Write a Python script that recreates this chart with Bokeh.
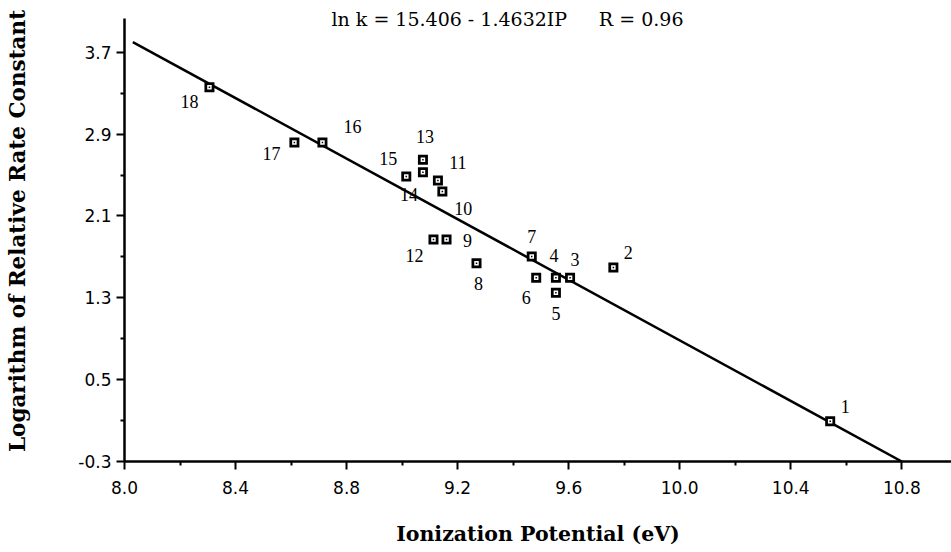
from bokeh.plotting import figure
from bokeh.models import Range1d, FixedTicker, PrintfTickFormatter, Label, LabelSet, ColumnDataSource
from bokeh.embed import file_html
from bokeh.resources import INLINE

# ---- data ----
compound = ["1", "2", "3", "4", "5", "6", "7", "8", "9", "10",
            "11", "12", "13", "14", "15", "16", "17", "18"]
ip_ev = [10.542, 9.761, 9.605, 9.554, 9.554, 9.483, 9.467, 9.268, 9.160, 9.145,
         9.129, 9.113, 9.075, 9.075, 9.015, 8.713, 8.612, 8.306]
ln_k = [0.094, 1.596, 1.496, 1.496, 1.349, 1.496, 1.704, 1.638, 1.870, 2.339,
        2.447, 1.870, 2.649, 2.528, 2.486, 2.818, 2.818, 3.359]

fit_ip = [8.03, 10.80]
fit_lnk = [3.80, -0.30]

x_ticks = [8.0, 8.4, 8.8, 9.2, 9.6, 10.0, 10.4, 10.8]
x_minor = [8.2, 8.6, 9.0, 9.4, 9.8, 10.2, 10.6]
y_ticks = [-0.3, 0.5, 1.3, 2.1, 2.9, 3.7]
y_minor = [0.1, 0.9, 1.7, 2.5, 3.3]
y_axis_top = 4.03

title_eq = "ln k = 15.406 - 1.4632IP"
title_r = "R = 0.96"

# label placement offsets (pixels; styling only)
lab_dx = [15, 15, 5, -2, 0, -10, 0, 2, 21, 21, 20, -19, 2, -14, -18, 30, -23, -20]
lab_dy = [15, 15, 18, 22, -21, -20, 20, -20, -1, -17, 18, -16, 23, -22, 18, 16, -11, -14]

p = figure(width=951, height=552, output_backend="svg", toolbar_location=None,
           x_range=Range1d(8.0, 10.979), y_range=Range1d(-0.3, 4.206),
           min_border_left=124, min_border_right=0, min_border_top=0, min_border_bottom=91)
p.outline_line_color = None
p.xgrid.visible = False
p.ygrid.visible = False
p.background_fill_color = "white"

for ax in (p.xaxis[0], p.yaxis[0]):
    ax.axis_line_width = 2.5
    ax.axis_line_color = "black"
    ax.major_tick_line_width = 2
    ax.minor_tick_line_width = 2
    ax.major_tick_in = 0
    ax.major_tick_out = 8
    ax.minor_tick_in = 0
    ax.minor_tick_out = 4
    ax.major_label_text_font = "DejaVu Sans"
    ax.major_label_text_font_size = "17px"
    ax.major_label_text_color = "black"
    ax.axis_label_text_font = "DejaVu Serif"
    ax.axis_label_text_font_style = "bold"
    ax.axis_label_text_color = "black"
    ax.formatter = PrintfTickFormatter(format="%.1f")

p.xaxis.ticker = FixedTicker(ticks=x_ticks, minor_ticks=x_minor)
p.yaxis.ticker = FixedTicker(ticks=y_ticks, minor_ticks=y_minor)
p.yaxis.bounds = (y_ticks[0], y_axis_top)
p.xaxis.axis_label = "Ionization Potential (eV)"
p.yaxis.axis_label = "Logarithm of Relative Rate Constant"
p.xaxis.axis_label_text_font_size = "20.5px"
p.yaxis.axis_label_text_font_size = "21.5px"
p.xaxis.major_label_standoff = 11
p.yaxis.major_label_standoff = 5
p.xaxis.axis_label_standoff = 25
p.yaxis.axis_label_standoff = 45

p.line(fit_ip, fit_lnk, line_color="black", line_width=2.5)

src = ColumnDataSource(dict(x=ip_ev, y=ln_k, t=compound, dx=lab_dx, dy=lab_dy))
p.scatter("x", "y", source=src, marker="square", size=10, fill_color="black", line_color=None)
p.scatter("x", "y", source=src, marker="square", size=4.5, fill_color="white", line_color=None)
p.scatter("x", "y", source=src, marker="square", size=1.5, fill_color="black", line_color=None)

labels = LabelSet(x="x", y="y", text="t", source=src, x_offset="dx", y_offset="dy",
                  text_align="center", text_baseline="middle",
                  text_font="DejaVu Serif", text_font_size="18px", text_color="black")
p.add_layout(labels)

p.add_layout(Label(x=8.7456, y=y_axis_top, text=title_eq, text_align="left", text_baseline="middle",
                   text_font="DejaVu Serif", text_font_size="19px", text_color="black"))
p.add_layout(Label(x=10.0135, y=y_axis_top, text=title_r, text_align="right", text_baseline="middle",
                   text_font="DejaVu Serif", text_font_size="19px", text_color="black"))

open("out.html", "w").write(file_html(p, INLINE))
